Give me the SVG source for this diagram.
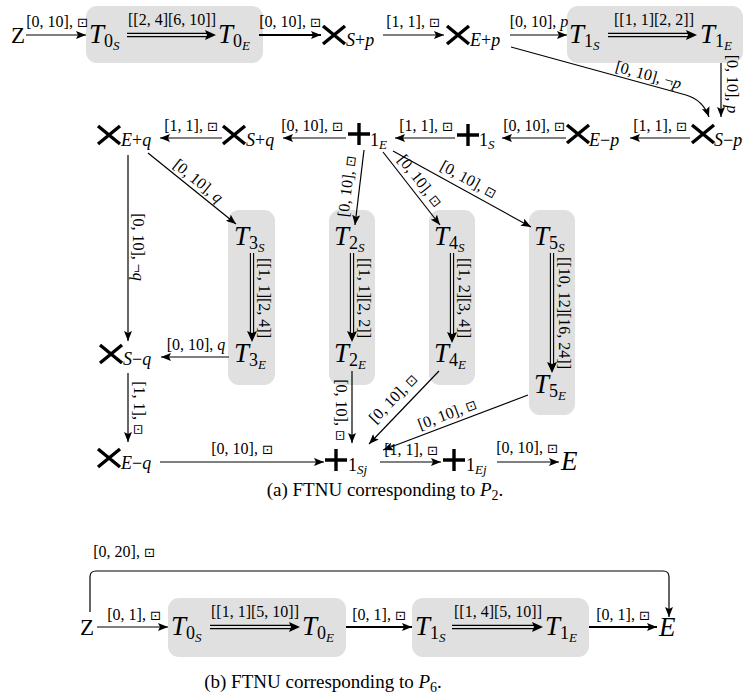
<svg xmlns="http://www.w3.org/2000/svg" width="745" height="697" viewBox="0 0 745 697">
<defs>
<marker id="ah" viewBox="0 0 10 8" refX="10" refY="4" markerWidth="10" markerHeight="8" orient="auto" markerUnits="userSpaceOnUse"><path d="M0,0 L10,4 L0,8 L2,4 Z"/></marker>
<marker id="ah2" viewBox="0 0 11 10" refX="11" refY="5" markerWidth="11" markerHeight="10" orient="auto" markerUnits="userSpaceOnUse"><path d="M0,0 L11,5 L0,10 L2,5 Z"/></marker>
</defs>
<rect width="745" height="697" fill="#fff"/>

<g id="boxes" fill="#e0e0e0">
<rect x="86" y="6" width="177" height="57" rx="11"/>
<rect x="567" y="6" width="176" height="57" rx="11"/>
<rect x="228" y="210" width="47" height="175" rx="11"/>
<rect x="329" y="210" width="46" height="175" rx="11"/>
<rect x="429" y="210" width="46" height="175" rx="11"/>
<rect x="529" y="210" width="46" height="205" rx="11"/>
<rect x="168" y="598" width="178" height="59" rx="11"/>
<rect x="412" y="598" width="177" height="59" rx="11"/>
</g>

<g id="edges" fill="none" stroke="#000" stroke-width="1.2">
<path d="M26,35 H86" marker-end="url(#ah)"/>
<path d="M259,35 H321" stroke-width="2" marker-end="url(#ah)"/>
<path d="M383,35 H444" marker-end="url(#ah)"/>
<path d="M510,35 H567" marker-end="url(#ah)"/>
<path d="M721,63 V117" marker-end="url(#ah)"/>
<path d="M511,47 L686,95 Q703,100 709,117" marker-end="url(#ah)"/>
<path d="M690,138 H630" marker-end="url(#ah)"/>
<path d="M566,138 H502" marker-end="url(#ah)"/>
<path d="M455,138 H395" marker-end="url(#ah)"/>
<path d="M346,138 H283" marker-end="url(#ah)"/>
<path d="M222,138 H160" marker-end="url(#ah)"/>
<path d="M148,153 L236,224" marker-end="url(#ah)"/>
<path d="M364,150 L355,225" marker-end="url(#ah)"/>
<path d="M383,152 L440,225" marker-end="url(#ah)"/>
<path d="M393,151 L531,227" marker-end="url(#ah)"/>
<path d="M128,155 V341" marker-end="url(#ah)"/>
<path d="M229,357 H161" marker-end="url(#ah)"/>
<path d="M128,373 V442" marker-end="url(#ah)"/>
<path d="M352,371 V443" marker-end="url(#ah)"/>
<path d="M439,371 L369,444" marker-end="url(#ah)"/>
<path d="M528,395 L383,450" marker-end="url(#ah)"/>
<path d="M160,462 H324" marker-end="url(#ah)"/>
<path d="M380,462 H441" marker-end="url(#ah)"/>
<path d="M497,462 H559" marker-end="url(#ah)"/>
<path d="M90,612 V577 Q90,571 96,571 H663 Q669,571 669,577 V617" marker-end="url(#ah)"/>
<path d="M97,627 H168" marker-end="url(#ah)"/>
<path d="M346,627 H412" stroke-width="2" marker-end="url(#ah)"/>
<path d="M589,627 H657" stroke-width="2" marker-end="url(#ah)"/>
<g stroke-width="1.1">
<path d="M127,33.4 H209 M127,36.6 H209"/>
<path d="M608,33.4 H690 M608,36.6 H690"/>
<path d="M250.4,253 V335 M253.6,253 V335"/>
<path d="M350.4,253 V335 M353.6,253 V335"/>
<path d="M450.4,253 V336 M453.6,253 V336"/>
<path d="M550.4,253 V366 M553.6,253 V366"/>
<path d="M210,625.4 H293 M210,628.6 H293"/>
<path d="M452,625.4 H536 M452,628.6 H536"/>
</g>
<g stroke-opacity="0">
<path d="M127,35 H216" marker-end="url(#ah2)"/>
<path d="M608,35 H697" marker-end="url(#ah2)"/>
<path d="M252,253 V342" marker-end="url(#ah2)"/>
<path d="M352,253 V342" marker-end="url(#ah2)"/>
<path d="M452,253 V343" marker-end="url(#ah2)"/>
<path d="M552,253 V373" marker-end="url(#ah2)"/>
<path d="M210,627 H300" marker-end="url(#ah2)"/>
<path d="M452,627 H543" marker-end="url(#ah2)"/>
</g>
</g>

<g id="edge-labels" font-family="'Liberation Serif', serif" font-size="16" fill="#000">
<text x="57" y="27" text-anchor="middle">[0, 10], <tspan font-family="'DejaVu Sans', sans-serif" font-size="13">⊡</tspan></text>
<text x="172" y="25" text-anchor="middle">[[2, 4][6, 10]]</text>
<text x="290" y="27" text-anchor="middle">[0, 10], <tspan font-family="'DejaVu Sans', sans-serif" font-size="13">⊡</tspan></text>
<text x="413" y="27" text-anchor="middle">[1, 1], <tspan font-family="'DejaVu Sans', sans-serif" font-size="13">⊡</tspan></text>
<text x="539" y="27" text-anchor="middle">[0, 10], <tspan font-style="italic">p</tspan></text>
<text x="654" y="25" text-anchor="middle">[[1, 1][2, 2]]</text>
<text transform="translate(727,84) rotate(90)" text-anchor="middle">[0, 10], <tspan font-style="italic">p</tspan></text>
<text transform="translate(647,80) rotate(15.5)" text-anchor="middle">[0, 10], ¬<tspan font-style="italic">p</tspan></text>
<text x="660" y="131" text-anchor="middle">[1, 1], <tspan font-family="'DejaVu Sans', sans-serif" font-size="13">⊡</tspan></text>
<text x="534" y="131" text-anchor="middle">[0, 10], <tspan font-family="'DejaVu Sans', sans-serif" font-size="13">⊡</tspan></text>
<text x="426" y="131" text-anchor="middle">[1, 1], <tspan font-family="'DejaVu Sans', sans-serif" font-size="13">⊡</tspan></text>
<text x="312" y="131" text-anchor="middle">[0, 10], <tspan font-family="'DejaVu Sans', sans-serif" font-size="13">⊡</tspan></text>
<text x="191" y="131" text-anchor="middle">[1, 1], <tspan font-family="'DejaVu Sans', sans-serif" font-size="13">⊡</tspan></text>
<text transform="translate(195,185) rotate(39)" text-anchor="middle">[0, 10], <tspan font-style="italic">q</tspan></text>
<text transform="translate(352,187) rotate(-83)" text-anchor="middle">[0, 10], <tspan font-family="'DejaVu Sans', sans-serif" font-size="13">⊡</tspan></text>
<text transform="translate(416,184) rotate(51.6)" text-anchor="middle">[0, 10], <tspan font-family="'DejaVu Sans', sans-serif" font-size="13">⊡</tspan></text>
<text transform="translate(466,184) rotate(28.8)" text-anchor="middle">[0, 10], <tspan font-family="'DejaVu Sans', sans-serif" font-size="13">⊡</tspan></text>
<text transform="translate(133,247) rotate(90)" text-anchor="middle">[0, 10], ¬<tspan font-style="italic">q</tspan></text>
<text x="196" y="350" text-anchor="middle">[0, 10], <tspan font-style="italic">q</tspan></text>
<text transform="translate(134,408) rotate(90)" text-anchor="middle">[1, 1], <tspan font-family="'DejaVu Sans', sans-serif" font-size="13">⊡</tspan></text>
<text transform="translate(259,298) rotate(90)" text-anchor="middle">[[1, 1][2, 4]]</text>
<text transform="translate(359,298) rotate(90)" text-anchor="middle">[[1, 1][2, 2]]</text>
<text transform="translate(459,298) rotate(90)" text-anchor="middle">[[1, 2][3, 4]]</text>
<text transform="translate(559,313) rotate(90)" text-anchor="middle">[[10, 12][16, 24]]</text>
<text transform="translate(336,410) rotate(90)" text-anchor="middle">[0, 10], <tspan font-family="'DejaVu Sans', sans-serif" font-size="13">⊡</tspan></text>
<text transform="translate(397,402) rotate(-46)" text-anchor="middle">[0, 10], <tspan font-family="'DejaVu Sans', sans-serif" font-size="13">⊡</tspan></text>
<text transform="translate(449,419) rotate(-20.8)" text-anchor="middle">[0, 10], <tspan font-family="'DejaVu Sans', sans-serif" font-size="13">⊡</tspan></text>
<text x="242" y="454" text-anchor="middle">[0, 10], <tspan font-family="'DejaVu Sans', sans-serif" font-size="13">⊡</tspan></text>
<text x="411" y="455" text-anchor="middle">[1, 1], <tspan font-family="'DejaVu Sans', sans-serif" font-size="13">⊡</tspan></text>
<text x="527" y="453" text-anchor="middle">[0, 10], <tspan font-family="'DejaVu Sans', sans-serif" font-size="13">⊡</tspan></text>
<text x="124" y="557" text-anchor="middle">[0, 20], <tspan font-family="'DejaVu Sans', sans-serif" font-size="13">⊡</tspan></text>
<text x="134" y="620" text-anchor="middle">[0, 1], <tspan font-family="'DejaVu Sans', sans-serif" font-size="13">⊡</tspan></text>
<text x="255" y="617" text-anchor="middle">[[1, 1][5, 10]]</text>
<text x="379" y="620" text-anchor="middle">[0, 1], <tspan font-family="'DejaVu Sans', sans-serif" font-size="13">⊡</tspan></text>
<text x="498" y="617" text-anchor="middle">[[1, 4][5, 10]]</text>
<text x="623" y="620" text-anchor="middle">[0, 1], <tspan font-family="'DejaVu Sans', sans-serif" font-size="13">⊡</tspan></text>
</g>

<g id="nodes" font-family="'Liberation Serif', serif" fill="#000">
<g id="Za"><text x="11" y="43" font-size="23">Z</text></g>
<g id="T0S"><text x="89" y="43" font-size="27"><tspan font-style="italic">T</tspan><tspan font-size="18" dy="4">0</tspan><tspan font-style="italic" font-size="13" dy="3">S</tspan></text></g>
<g id="T0E"><text x="218" y="43" font-size="27"><tspan font-style="italic">T</tspan><tspan font-size="18" dy="4">0</tspan><tspan font-style="italic" font-size="13" dy="3">E</tspan></text></g>
<g id="xSp"><path d="M323,26 L345,44 M345,26 L323,44" stroke="#000" stroke-width="3.4"/><text x="346" y="46" font-size="18"><tspan font-style="italic">S</tspan>+<tspan font-style="italic">p</tspan></text></g>
<g id="xEp"><path d="M447,26 L469,44 M469,26 L447,44" stroke="#000" stroke-width="3.4"/><text x="470" y="46" font-size="18"><tspan font-style="italic">E</tspan>+<tspan font-style="italic">p</tspan></text></g>
<g id="T1S"><text x="569" y="43" font-size="27"><tspan font-style="italic">T</tspan><tspan font-size="18" dy="4">1</tspan><tspan font-style="italic" font-size="13" dy="3">S</tspan></text></g>
<g id="T1E"><text x="700" y="43" font-size="27"><tspan font-style="italic">T</tspan><tspan font-size="18" dy="4">1</tspan><tspan font-style="italic" font-size="13" dy="3">E</tspan></text></g>

<g id="xSm"><path d="M692,125 L714,143 M714,125 L692,143" stroke="#000" stroke-width="3.4"/><text x="714" y="146" font-size="18"><tspan font-style="italic">S</tspan>−<tspan font-style="italic">p</tspan></text></g>
<g id="xEm"><path d="M567,125 L589,143 M589,125 L567,143" stroke="#000" stroke-width="3.4"/><text x="589" y="146" font-size="18"><tspan font-style="italic">E</tspan>−<tspan font-style="italic">p</tspan></text></g>
<g id="p1S"><path d="M457,135 H479 M468,124 V146" stroke="#000" stroke-width="3.4"/><text x="479" y="146" font-size="18">1<tspan font-style="italic" font-size="13" dy="3">S</tspan></text></g>
<g id="p1E"><path d="M348,134 H370 M359,123 V145" stroke="#000" stroke-width="3.4"/><text x="370" y="146" font-size="18">1<tspan font-style="italic" font-size="13" dy="3">E</tspan></text></g>
<g id="xSq"><path d="M223,126 L245,144 M245,126 L223,144" stroke="#000" stroke-width="3.4"/><text x="246" y="146" font-size="18"><tspan font-style="italic">S</tspan>+<tspan font-style="italic">q</tspan></text></g>
<g id="xEq"><path d="M98,126 L120,144 M120,126 L98,144" stroke="#000" stroke-width="3.4"/><text x="121" y="146" font-size="18"><tspan font-style="italic">E</tspan>+<tspan font-style="italic">q</tspan></text></g>

<g id="T3S"><text x="234" y="245" font-size="27"><tspan font-style="italic">T</tspan><tspan font-size="18" dy="4">3</tspan><tspan font-style="italic" font-size="13" dy="3">S</tspan></text></g>
<g id="T3E"><text x="234" y="362" font-size="27"><tspan font-style="italic">T</tspan><tspan font-size="18" dy="4">3</tspan><tspan font-style="italic" font-size="13" dy="3">E</tspan></text></g>
<g id="T2S"><text x="334" y="245" font-size="27"><tspan font-style="italic">T</tspan><tspan font-size="18" dy="4">2</tspan><tspan font-style="italic" font-size="13" dy="3">S</tspan></text></g>
<g id="T2E"><text x="334" y="362" font-size="27"><tspan font-style="italic">T</tspan><tspan font-size="18" dy="4">2</tspan><tspan font-style="italic" font-size="13" dy="3">E</tspan></text></g>
<g id="T4S"><text x="434" y="245" font-size="27"><tspan font-style="italic">T</tspan><tspan font-size="18" dy="4">4</tspan><tspan font-style="italic" font-size="13" dy="3">S</tspan></text></g>
<g id="T4E"><text x="434" y="362" font-size="27"><tspan font-style="italic">T</tspan><tspan font-size="18" dy="4">4</tspan><tspan font-style="italic" font-size="13" dy="3">E</tspan></text></g>
<g id="T5S"><text x="534" y="245" font-size="27"><tspan font-style="italic">T</tspan><tspan font-size="18" dy="4">5</tspan><tspan font-style="italic" font-size="13" dy="3">S</tspan></text></g>
<g id="T5E"><text x="534" y="393" font-size="27"><tspan font-style="italic">T</tspan><tspan font-size="18" dy="4">5</tspan><tspan font-style="italic" font-size="13" dy="3">E</tspan></text></g>

<g id="xSmq"><path d="M100,345 L122,363 M122,345 L100,363" stroke="#000" stroke-width="3.4"/><text x="123" y="365" font-size="18"><tspan font-style="italic">S</tspan>−<tspan font-style="italic">q</tspan></text></g>
<g id="xEmq"><path d="M98,449 L120,467 M120,449 L98,467" stroke="#000" stroke-width="3.4"/><text x="121" y="469" font-size="18"><tspan font-style="italic">E</tspan>−<tspan font-style="italic">q</tspan></text></g>
<g id="p1Sj"><path d="M325,460 H347 M336,449 V471" stroke="#000" stroke-width="3.4"/><text x="348" y="471" font-size="18">1<tspan font-style="italic" font-size="13" dy="3">Sj</tspan></text></g>
<g id="p1Ej"><path d="M443,460 H465 M454,449 V471" stroke="#000" stroke-width="3.4"/><text x="466" y="471" font-size="18">1<tspan font-style="italic" font-size="13" dy="3">Ej</tspan></text></g>
<g id="Ea"><text x="561" y="470" font-size="27" font-style="italic">E</text></g>

<g id="capA"><text x="385" y="496" font-size="19" text-anchor="middle">(a) FTNU corresponding to <tspan font-style="italic">P</tspan><tspan font-size="14" dy="4">2</tspan><tspan dy="-4">.</tspan></text></g>

<g id="Zb"><text x="80" y="635" font-size="23">Z</text></g>
<g id="bT0S"><text x="171" y="635" font-size="27"><tspan font-style="italic">T</tspan><tspan font-size="18" dy="4">0</tspan><tspan font-style="italic" font-size="13" dy="3">S</tspan></text></g>
<g id="bT0E"><text x="302" y="635" font-size="27"><tspan font-style="italic">T</tspan><tspan font-size="18" dy="4">0</tspan><tspan font-style="italic" font-size="13" dy="3">E</tspan></text></g>
<g id="bT1S"><text x="415" y="635" font-size="27"><tspan font-style="italic">T</tspan><tspan font-size="18" dy="4">1</tspan><tspan font-style="italic" font-size="13" dy="3">S</tspan></text></g>
<g id="bT1E"><text x="545" y="635" font-size="27"><tspan font-style="italic">T</tspan><tspan font-size="18" dy="4">1</tspan><tspan font-style="italic" font-size="13" dy="3">E</tspan></text></g>
<g id="Eb"><text x="659" y="636" font-size="27" font-style="italic">E</text></g>
<g id="capB"><text x="323" y="688" font-size="19" text-anchor="middle">(b) FTNU corresponding to <tspan font-style="italic">P</tspan><tspan font-size="14" dy="4">6</tspan><tspan dy="-4">.</tspan></text></g>
</g>
</svg>
